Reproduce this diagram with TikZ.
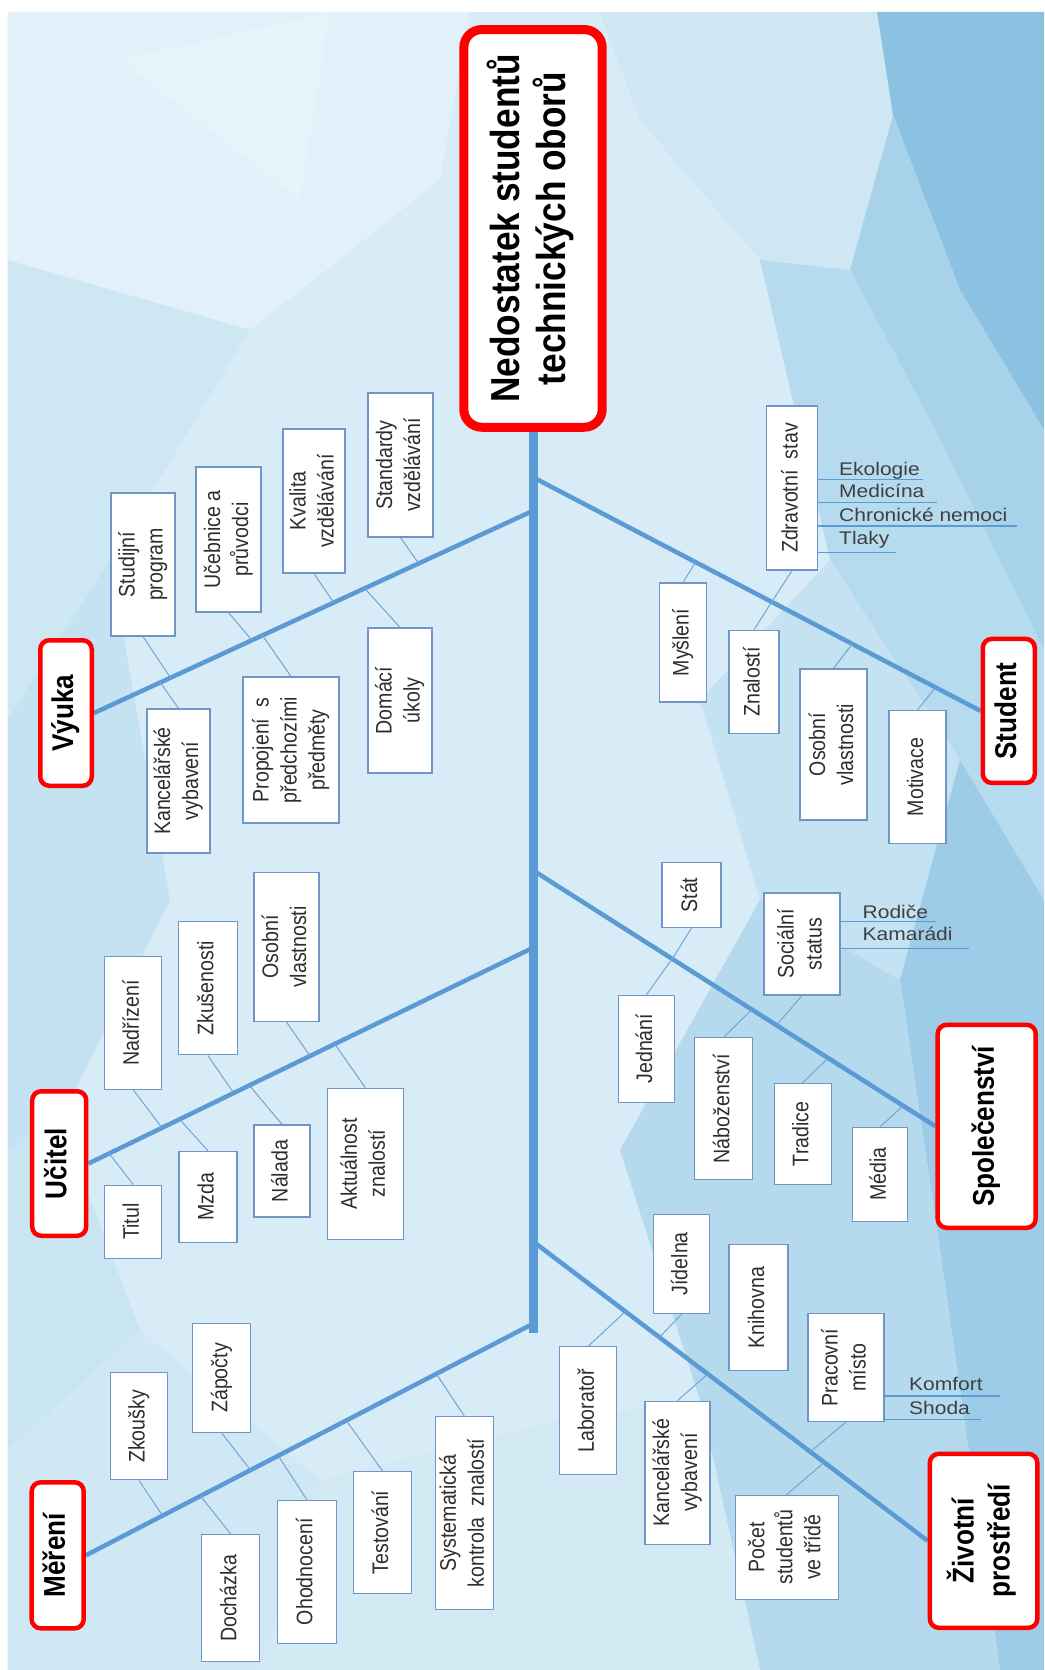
\documentclass[tikz,border=0pt]{standalone}
\usepackage{fontspec}
\usepackage{graphicx}
\usetikzlibrary{calc}
\newfontfamily\narrowsans[FakeStretch=0.87]{Liberation Sans}
\newfontfamily\plainsans{Liberation Sans}

\pgfdeclarelayer{backdrop}
\pgfdeclarelayer{wires}
\pgfsetlayers{backdrop,wires,main}

\definecolor{causered}{HTML}{FF0000}
\definecolor{bonecol}{HTML}{5B9BD5}
\definecolor{twigcol}{HTML}{6FA6D8}
\definecolor{leafedge}{HTML}{7095C6}
\definecolor{leafink}{HTML}{2E2E2E}
\definecolor{subink}{HTML}{404040}

\tikzset{
  leafbox/.style={draw=leafedge, line width=1.3pt, fill=white, inner sep=0pt,
    text=leafink, font=\narrowsans\fontsize{22.5}{28}\selectfont},
  causebox/.style={draw=causered, line width=4.5pt, fill=white, rounded corners=9pt,
    inner sep=0pt, text=black, font=\narrowsans\bfseries\fontsize{30}{36}\selectfont},
  effectbox/.style={draw=causered, line width=9pt, fill=white, rounded corners=18pt,
    inner sep=0pt, text=black, font=\narrowsans\bfseries\fontsize{40.5}{45}\selectfont},
  spineline/.style={draw=bonecol, line width=9pt},
  boneline/.style={draw=bonecol, line width=4.5pt},
  twigline/.style={draw=twigcol, line width=1pt},
  tagline/.style={draw=bonecol, line width=1.3pt},
  tagtext/.style={text=subink, font=\plainsans\fontsize{21}{24}\selectfont,
    inner sep=0pt, anchor=base west},
}

% text set bottom-to-top inside an upright box
\newcommand\vtext[1]{\rotatebox{90}{\begin{tabular}{@{}c@{}}#1\end{tabular}}}
% \leafnode{name}{cx}{cy}{width}{height}{text}
\newcommand\leafnode[6]{\node[leafbox, minimum width=#4pt, minimum height=#5pt] (#1) at (#2,#3) {\vtext{#6}};}
% \causenode{name}{cx}{cy}{width}{height}{text}
\newcommand\causenode[6]{\node[causebox, minimum width=#4pt, minimum height=#5pt] (#1) at (#2,#3) {\vtext{#6}};}
% thin line from a box to its bone, aimed through a point near the bone
\newcommand\twig[4]{\coordinate (aim) at (#2,#3);
  \draw[twigline] (#1) -- (intersection of #1--aim and #4);}
\newcommand\squat[1]{\scalebox{1}[0.87]{#1}}

\begin{document}
\begin{tikzpicture}[x=1pt,y=-1pt]
\useasboundingbox (0,0) rectangle (1044,1670);

% ---------- low-poly backdrop ----------
\begin{pgfonlayer}{backdrop}
\fill[white] (0,0) rectangle (1044,1670);
\fill[fill={rgb,255:red,215;green,236;blue,246}] (7.5,12) rectangle (1044,1670);
\fill[fill={rgb,255:red,226;green,241;blue,249}] (7.5,12) -- (470,12) -- (440,180) -- (250,330) -- (7.5,260) -- cycle;
\fill[fill={rgb,255:red,230;green,243;blue,250}] (120,60) -- (330,12) -- (300,200) -- cycle;
\fill[fill={rgb,255:red,205;green,231;blue,243}] (7.5,260) -- (250,330) -- (110,560) -- (7.5,720) -- cycle;
\fill[fill={rgb,255:red,196;green,226;blue,241}] (7.5,720) -- (110,560) -- (170,900) -- (60,1120) -- (7.5,1150) -- cycle;
\fill[fill={rgb,255:red,201;green,229;blue,242}] (7.5,1150) -- (60,1120) -- (140,1330) -- (7.5,1450) -- cycle;
\fill[fill={rgb,255:red,208;green,232;blue,244}] (7.5,1450) -- (140,1330) -- (320,1480) -- (260,1670) -- (7.5,1670) -- cycle;
\fill[fill={rgb,255:red,207;green,231;blue,243}] (600,12) -- (877,12) -- (893,115) -- (850,270) -- (760,260) -- (640,120) -- cycle;
\fill[fill={rgb,255:red,139;green,194;blue,225}] (877,12) -- (1044,12) -- (1044,430) -- (960,290) -- (893,115) -- cycle;
\fill[fill={rgb,255:red,167;green,210;blue,234}] (893,115) -- (960,290) -- (1044,430) -- (1044,650) -- (930,420) -- (850,270) -- cycle;
\fill[fill={rgb,255:red,182;green,219;blue,238}] (850,270) -- (930,420) -- (1044,650) -- (1044,900) -- (960,760) -- (830,560) -- (760,260) -- cycle;
\fill[fill={rgb,255:red,196;green,226;blue,241}] (830,560) -- (960,760) -- (900,980) -- (760,900) -- (700,700) -- cycle;
\fill[fill={rgb,255:red,156;green,204;blue,231}] (960,760) -- (1044,900) -- (1044,1670) -- (1000,1670) -- (940,1250) -- (900,980) -- cycle;
\fill[fill={rgb,255:red,181;green,218;blue,238}] (760,900) -- (900,980) -- (940,1250) -- (1000,1670) -- (760,1670) -- (700,1400) -- (620,1150) -- cycle;
\fill[fill={rgb,255:red,211;green,234;blue,245}] (320,1480) -- (560,1420) -- (700,1400) -- (760,1670) -- (260,1670) -- cycle;
\end{pgfonlayer}

% ---------- effect ----------
\node[effectbox, minimum width=138.4pt, minimum height=397.7pt] (title) at (533,228.4)
  {\vtext{Nedostatek studentů\\technických oborů}};

% ---------- main causes ----------
\causenode{vy}{66}{713}{51.5}{145.5}{Výuka}
\causenode{uc}{59.2}{1163.5}{54}{144.5}{Učitel}
\causenode{me}{57.7}{1555.3}{52}{146}{Měření}
\causenode{st}{1008.8}{710.9}{52}{144}{Student}
\causenode{sc}{986.7}{1126.3}{98}{203}{Společenství}
\causenode{zp}{983.6}{1540.8}{107.5}{174}{Životní\\prostředí}

% ---------- Výuka ----------
\leafnode{sp}{143}{564.5}{64}{143}{Studijní\\program}
\leafnode{ucb}{228.5}{539.5}{65}{145}{Učebnice a\\průvodci}
\leafnode{kva}{314}{501}{62}{144}{Kvalita\\vzdělávání}
\leafnode{std}{400.5}{465}{65}{144}{Standardy\\vzdělávání}
\leafnode{kan}{178.5}{781}{63}{144}{Kancelářské\\vybavení}
\leafnode{pro}{291}{750}{96}{146}{Propojení\enspace s\\předchozími\\předměty}
\leafnode{dom}{400}{700.5}{64}{145}{Domácí\\úkoly}

% ---------- Učitel ----------
\leafnode{nad}{133.3}{1022.7}{57}{133}{Nadřízení}
\leafnode{zku}{207.8}{988.3}{59}{133}{Zkušenosti}
\leafnode{osu}{286.5}{947}{65}{149}{Osobní\\vlastnosti}
\leafnode{tit}{133.3}{1221.7}{57}{73}{Titul}
\leafnode{mzd}{208}{1197}{58}{91}{Mzda}
\leafnode{nal}{282}{1171}{56}{92}{Nálada}
\leafnode{akt}{365.3}{1163.8}{76}{151}{Aktuálnost\\znalostí}

% ---------- Měření ----------
\leafnode{zko}{139}{1426.3}{57}{107}{Zkoušky}
\leafnode{zap}{221.8}{1378}{58}{109}{Zápočty}
\leafnode{doc}{230.8}{1598.3}{58}{127}{Docházka}
\leafnode{oho}{306.7}{1571.7}{59}{143}{Ohodnocení}
\leafnode{tes}{382.5}{1532.5}{58}{122}{Testování}
\leafnode{sys}{464.2}{1513}{58}{193}{Systematická\\kontrola\enspace znalostí}

% ---------- Student ----------
\leafnode{zdr}{792}{488}{50.5}{164}{Zdravotní\enspace stav}
\leafnode{mys}{683}{642.5}{47.5}{119}{Myšlení}
\leafnode{zna}{754}{682}{50}{103}{Znalostí}
\leafnode{oss}{833.5}{744.5}{67}{151}{Osobní\\vlastnosti}
\leafnode{mot}{917.5}{777}{57}{133}{Motivace}

% ---------- Společenství ----------
\leafnode{sta}{691.5}{895}{59}{65}{Stát}
\leafnode{soc}{802}{944}{76}{102}{Sociální\\status}
\leafnode{jed}{646.6}{1048.7}{56}{107}{Jednání}
\leafnode{nab}{723.8}{1108.8}{58}{142}{Náboženství}
\leafnode{tra}{802.7}{1133.8}{57}{101}{Tradice}
\leafnode{med}{880.3}{1174.2}{55}{94}{Média}

% ---------- Životní prostředí ----------
\leafnode{jid}{681.8}{1263.7}{56}{99}{Jídelna}
\leafnode{kni}{758.5}{1307.8}{59}{126}{Knihovna}
\leafnode{pra}{846}{1367.5}{76}{108}{Pracovní\\místo}
\leafnode{lab}{588.3}{1410.8}{57}{128}{Laboratoř}
\leafnode{kav}{677.5}{1472.7}{65}{143}{Kancelářské\\vybavení}
\leafnode{poc}{786.7}{1547.2}{103}{104}{Počet\\studentů\\ve třídě}

% ---------- side notes ----------
\node[tagtext] (eko) at (839,475) {\squat{Ekologie}};
\node[tagtext] (mdc) at (839,497.5) {\squat{Medicína}};
\node[tagtext] (chr) at (839,521) {\squat{Chronické nemoci}};
\node[tagtext] (tla) at (839,544) {\squat{Tlaky}};
\node[tagtext] (rod) at (862.5,918) {\squat{Rodiče}};
\node[tagtext] (kam) at (862.5,940.5) {\squat{Kamarádi}};
\node[tagtext] (kom) at (909,1390) {\squat{Komfort}};
\node[tagtext] (sho) at (909,1414) {\squat{Shoda}};

% ---------- bones ----------
\begin{pgfonlayer}{wires}
\coordinate (tail) at (532.5,1333);
\coordinate (jV) at (532.5,511);
\coordinate (jU) at (532.5,948);
\coordinate (jM) at (532.5,1324);
\coordinate (jS) at (532.5,477);
\coordinate (jC) at (532.5,870);
\coordinate (jZ) at (532.5,1241);

\draw[spineline] (title.south) -- (title.south |- tail);
\draw[boneline] (vy.east) -- (jV);
\draw[boneline] (uc.east) -- (jU);
\draw[boneline] (me.east) -- (jM);
\draw[boneline] (jS) -- (st.west);
\draw[boneline] (jC) -- (sc.west);
\draw[boneline] (jZ) -- (zp.west);

% Výuka
\twig{sp.south}{170}{677}{vy.east--jV}
\twig{ucb.south}{250}{638}{vy.east--jV}
\twig{kva.south}{332}{600}{vy.east--jV}
\twig{std.south}{417}{561}{vy.east--jV}
\twig{kan.north}{160}{682}{vy.east--jV}
\twig{pro.north}{265}{639}{vy.east--jV}
\twig{dom.north}{368}{592}{vy.east--jV}
% Učitel
\twig{nad.south}{160}{1125}{uc.east--jU}
\twig{zku.south}{231.7}{1090}{uc.east--jU}
\twig{osu.south}{308.3}{1053.3}{uc.east--jU}
\twig{tit.north}{111.7}{1156.7}{uc.east--jU}
\twig{mzd.north}{183.3}{1123.3}{uc.east--jU}
\twig{nal.north}{253.3}{1090}{uc.east--jU}
\twig{akt.north}{336.7}{1046.7}{uc.east--jU}
% Měření
\twig{zko.south}{160}{1511.7}{me.east--jM}
\twig{zap.south}{246.7}{1465}{me.east--jM}
\twig{doc.north}{203.3}{1499.3}{me.east--jM}
\twig{oho.north}{280}{1458.3}{me.east--jM}
\twig{tes.north}{348.3}{1423.3}{me.east--jM}
\twig{sys.north}{438.3}{1376.7}{me.east--jM}
% Student
\twig{mys.north}{692.6}{566.7}{jS--st.west}
\twig{zdr.south}{770.7}{603.3}{jS--st.west}
\twig{zna.north}{770.7}{603.3}{jS--st.west}
\twig{oss.north}{848.7}{648.3}{jS--st.west}
\twig{mot.north}{932}{691.7}{jS--st.west}
% Společenství
\twig{sta.south}{673.5}{956.7}{jC--sc.west}
\twig{jed.north}{673.5}{956.7}{jC--sc.west}
\twig{soc.south}{779.3}{1021.7}{jC--sc.west}
\twig{nab.north}{748}{1013.3}{jC--sc.west}
\twig{tra.north}{826.2}{1060}{jC--sc.west}
\twig{med.north}{899}{1109.3}{jC--sc.west}
% Životní prostředí
\twig{jid.south}{663}{1333.3}{jZ--zp.west}
\twig{lab.north}{621.5}{1315}{jZ--zp.west}
\twig{kav.north}{704.7}{1376.7}{jZ--zp.west}
\twig{pra.south}{812.3}{1450}{jZ--zp.west}
\twig{poc.north}{819.2}{1466.7}{jZ--zp.west}

% underlines of the side notes
\coordinate (ekoE) at (923.3,479.3);
\coordinate (mdcE) at (937,502.7);
\coordinate (chrE) at (1017,526);
\coordinate (tlaE) at (895.6,552.3);
\coordinate (rodE) at (935.5,921.7);
\coordinate (kamE) at (968.5,948.3);
\coordinate (komE) at (999.7,1396);
\coordinate (shoE) at (980.6,1419.3);
\draw[tagline] (zdr.east |- ekoE) -- (ekoE);
\draw[tagline] (zdr.east |- mdcE) -- (mdcE);
\draw[tagline] (zdr.east |- chrE) -- (chrE);
\draw[tagline] (zdr.east |- tlaE) -- (tlaE);
\draw[tagline] (soc.east |- rodE) -- (rodE);
\draw[tagline] (soc.east |- kamE) -- (kamE);
\draw[tagline] (pra.east |- komE) -- (komE);
\draw[tagline] (pra.east |- shoE) -- (shoE);
\end{pgfonlayer}
\end{tikzpicture}
\end{document}
